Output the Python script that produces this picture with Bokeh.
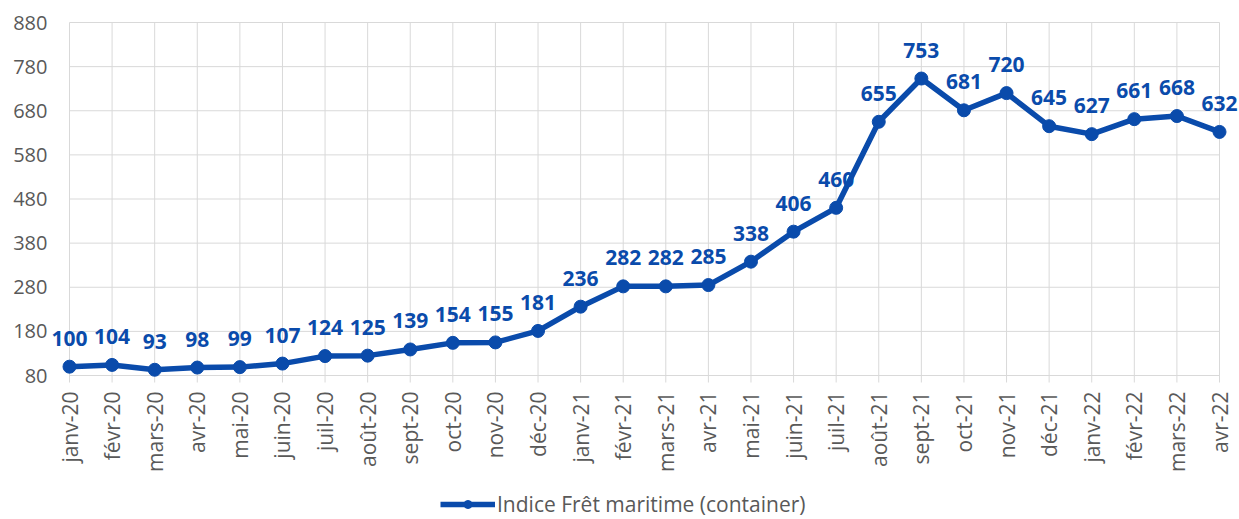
from bokeh.plotting import figure
from bokeh.models import (ColumnDataSource, LabelSet, Legend, LegendItem, Range1d)
from bokeh.core.properties import value
from bokeh.embed import file_html
from bokeh.resources import INLINE
import math

months = ["janv-20", "févr-20", "mars-20", "avr-20", "mai-20", "juin-20", "juil-20",
          "août-20", "sept-20", "oct-20", "nov-20", "déc-20", "janv-21", "févr-21",
          "mars-21", "avr-21", "mai-21", "juin-21", "juil-21", "août-21", "sept-21",
          "oct-21", "nov-21", "déc-21", "janv-22", "févr-22", "mars-22", "avr-22"]
values = [100, 104, 93, 98, 99, 107, 124, 125, 139, 154, 155, 181, 236, 282,
          282, 285, 338, 406, 460, 655, 753, 681, 720, 645, 627, 661, 668, 632]
y_ticks = [80, 180, 280, 380, 480, 580, 680, 780, 880]
series_name = "Indice Frêt maritime (container)"

BLUE = "#0A4BAB"
GRAY = "#595959"
GRID = "#d9d9d9"
FONT = "Open Sans"

# pixel layout of the plotting area (styles)
W, H = 1239, 519
PX_LEFT, PX_RIGHT, PX_TOP, PX_BOTTOM = 69, 1219, 22, 375
TICK_PX = 7

n = len(months)
xs = list(range(n))
y_lo, y_hi = y_ticks[0], y_ticks[-1]
sx = (PX_RIGHT - PX_LEFT) / (n - 1)
sy = (PX_BOTTOM - PX_TOP) / (y_hi - y_lo)
x_range = Range1d(-PX_LEFT / sx, (n - 1) + (W - PX_RIGHT) / sx)
y_range = Range1d(y_lo - (H - PX_BOTTOM) / sy, y_hi + PX_TOP / sy)

p = figure(width=W, height=H, output_backend="svg", toolbar_location=None,
           x_range=x_range, y_range=y_range, x_axis_type=None, y_axis_type=None,
           min_border=0)
p.outline_line_color = None
p.grid.visible = False

# grid lines limited to the plotting area
p.segment(x0=[0] * len(y_ticks), x1=[n - 1] * len(y_ticks), y0=y_ticks, y1=y_ticks,
          line_color=GRID, line_width=1)
p.segment(x0=xs, x1=xs, y0=[y_lo - TICK_PX / sy] * n, y1=[y_hi] * n,
          line_color=GRID, line_width=1)

src = ColumnDataSource(dict(x=xs, y=values, lab=[str(v) for v in values]))
line = p.line("x", "y", source=src, line_color=BLUE, line_width=5.5)
pts = p.scatter("x", "y", source=src, size=13, fill_color=BLUE, line_color=BLUE)

labels = LabelSet(x="x", y="y", text="lab", source=src, text_align="center",
                  text_baseline="bottom", y_offset=21, text_color=BLUE,
                  text_font=value(FONT), text_font_size="21px", text_font_style="bold")
p.add_layout(labels)

# y tick labels
ysrc = ColumnDataSource(dict(x=[0] * len(y_ticks), y=y_ticks, lab=[str(t) for t in y_ticks]))
p.add_layout(LabelSet(x="x", y="y", text="lab", source=ysrc, text_align="right",
                      text_baseline="middle", x_offset=-22, text_color=GRAY,
                      text_font=value(FONT), text_font_size="20px"))

# x tick labels (rotated)
xsrc = ColumnDataSource(dict(x=xs, y=[y_lo] * n, lab=months))
p.add_layout(LabelSet(x="x", y="y", text="lab", source=xsrc, angle=math.pi / 2,
                      text_align="right", text_baseline="middle", y_offset=-16,
                      text_color=GRAY, text_font=value(FONT), text_font_size="21px"))

legend = Legend(items=[LegendItem(label=series_name, renderers=[line, pts])],
                location=(440, 1), orientation="horizontal",
                glyph_width=55, glyph_height=20, label_text_font=FONT,
                label_text_font_size="21px", label_text_color=GRAY,
                border_line_color=None, background_fill_alpha=0,
                padding=0, margin=0, spacing=0, label_standoff=2)
p.add_layout(legend)

open("out.html", "w").write(file_html(p, INLINE))
